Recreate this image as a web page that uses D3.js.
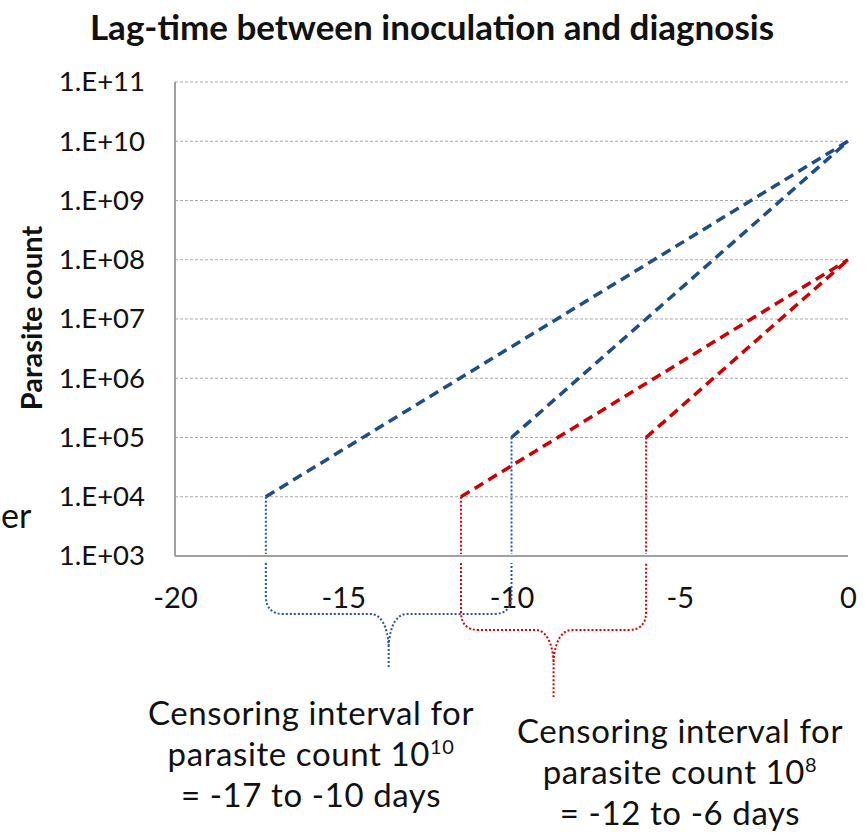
<!DOCTYPE html>
<html>
<head>
<meta charset="utf-8">
<script src="https://cdn.jsdelivr.net/npm/d3@7"></script>
<style>
  html, body { margin: 0; padding: 0; background: #fff; }
  svg { display: block; font-family: Lato, "Open Sans", sans-serif; }
</style>
</head>
<body>
<svg id="chart" width="868" height="839"></svg>
<script>
// Axis ticks
const xTickValues = [-20, -15, -10, -5, 0];
const yTickValues = [1e3, 1e4, 1e5, 1e6, 1e7, 1e8, 1e9, 1e10, 1e11];
const yTickLabels = ["1.E+03", "1.E+04", "1.E+05", "1.E+06", "1.E+07", "1.E+08", "1.E+09", "1.E+10", "1.E+11"];

// Growth trajectories: start (day, count) to end (day, count)
const seriesStartDay   = [-17.3, -10, -11.5, -6];
const seriesStartCount = [1e4, 1e5, 1e4, 1e5];
const seriesEndDay     = [0, 0, 0, 0];
const seriesEndCount   = [1e10, 1e10, 1e8, 1e8];
const seriesGroup      = [0, 0, 1, 1];

// Censoring intervals (one per diagnosis count)
const intervalFrom = [-17.3, -11.5];
const intervalTo   = [-10, -6];

const groupLineColors   = ["#1f4e86", "#cc0000"];
const groupBraceColors  = ["#2b5597", "#dd0000"];

const svg = d3.select("#chart");

const x = d3.scaleLinear().domain([-20, 0]).range([175, 848]);
const y = d3.scaleLog().domain([1e3, 1e11]).range([556, 82]);

// Title
svg.append("text")
  .attr("x", 432).attr("y", 40)
  .attr("text-anchor", "middle")
  .attr("font-weight", "bold")
  .attr("font-size", 35)
  .attr("fill", "#111")
  .text("Lag-time between inoculation and diagnosis");

// Horizontal gridlines
svg.append("g")
  .selectAll("line")
  .data(yTickValues.slice(1))
  .join("line")
  .attr("x1", x(-20)).attr("x2", x(0))
  .attr("y1", d => y(d)).attr("y2", d => y(d))
  .attr("stroke", "#a8a8a8")
  .attr("stroke-width", 1.2)
  .attr("stroke-dasharray", "3,2");

// Axes lines
svg.append("line")
  .attr("x1", x(-20)).attr("x2", x(-20))
  .attr("y1", y(1e11)).attr("y2", y(1e3))
  .attr("stroke", "#a0a0a0").attr("stroke-width", 2);
svg.append("line")
  .attr("x1", x(-20)).attr("x2", x(0))
  .attr("y1", y(1e3)).attr("y2", y(1e3))
  .attr("stroke", "#a0a0a0").attr("stroke-width", 2);

// Y axis labels
const yAxis = d3.axisLeft(y)
  .tickValues(yTickValues)
  .tickFormat((d, i) => yTickLabels[i])
  .tickSize(0)
  .tickPadding(30);
const gy = svg.append("g").attr("transform", `translate(${x(-20)},0)`).call(yAxis);
gy.select(".domain").remove();
gy.selectAll("text")
  .attr("font-family", "Lato, 'Open Sans', sans-serif")
  .attr("font-size", 27.5)
  .attr("fill", "#111");

// X axis labels
const xAxis = d3.axisBottom(x)
  .tickValues(xTickValues)
  .tickFormat(d3.format("d"))
  .tickSize(0)
  .tickPadding(31);
const gx = svg.append("g").attr("transform", `translate(0,${y(1e3)})`).call(xAxis);
gx.select(".domain").remove();
gx.selectAll("text")
  .attr("font-family", "Lato, 'Open Sans', sans-serif")
  .attr("font-size", 29)
  .attr("fill", "#111")
  .text(d => d < 0 ? "-" + Math.abs(d) : String(d));

// Y axis title
svg.append("text")
  .attr("transform", "translate(42,318) rotate(-90)")
  .attr("text-anchor", "middle")
  .attr("font-weight", "bold")
  .attr("font-size", 29)
  .attr("fill", "#111")
  .text("Parasite count");

// Text fragment at the left margin
svg.append("text")
  .attr("x", 1).attr("y", 528)
  .attr("text-anchor", "start")
  .attr("font-size", 34)
  .attr("fill", "#111")
  .text("er");

// Dotted drop lines from trajectory start to the x axis
const dropG = svg.append("g");
seriesStartDay.forEach((d, i) => {
  dropG.append("line")
    .attr("x1", x(d)).attr("x2", x(d))
    .attr("y1", y(seriesStartCount[i])).attr("y2", y(1e3) - 2)
    .attr("stroke", groupBraceColors[seriesGroup[i]])
    .attr("stroke-width", 2)
    .attr("stroke-dasharray", "2,2");
});

// Curly braces under the axis marking each censoring interval
const braceDepth = [58, 74];
const braceTip = [112, 141];
function bracePath(x1, x2, yTop, yMid, yTip) {
  const m = (x1 + x2) / 2;
  const r = 18;
  const p = d3.path();
  p.moveTo(x1, yTop);
  p.lineTo(x1, yMid - r);
  p.quadraticCurveTo(x1, yMid, x1 + r, yMid);
  p.lineTo(m - 18, yMid);
  p.bezierCurveTo(m - 8, yMid, m - 1, yMid + 12, m, yMid + 32);
  p.lineTo(m, yTip);
  p.moveTo(m, yMid + 32);
  p.bezierCurveTo(m + 1, yMid + 12, m + 8, yMid, m + 18, yMid);
  p.lineTo(x2 - r, yMid);
  p.quadraticCurveTo(x2, yMid, x2, yMid - r);
  p.lineTo(x2, yTop);
  return p.toString();
}
const axisY = y(1e3);
intervalFrom.forEach((from, g) => {
  svg.append("path")
    .attr("d", bracePath(x(from), x(intervalTo[g]), axisY + 7, axisY + braceDepth[g], axisY + braceTip[g]))
    .attr("fill", "none")
    .attr("stroke", groupBraceColors[g])
    .attr("stroke-width", 2)
    .attr("stroke-dasharray", "2,2");
});

// Trajectory lines
const seriesG = svg.append("g");
seriesStartDay.forEach((d, i) => {
  seriesG.append("line")
    .attr("x1", x(d)).attr("y1", y(seriesStartCount[i]))
    .attr("x2", x(seriesEndDay[i])).attr("y2", y(seriesEndCount[i]))
    .attr("stroke", groupLineColors[seriesGroup[i]])
    .attr("stroke-width", 3.5)
    .attr("stroke-dasharray", "10,6");
});

// Annotations
function annotate(cx, y0, exp, rangeText) {
  const g = svg.append("g")
    .attr("font-size", 33)
    .attr("letter-spacing", 0.6)
    .attr("fill", "#111")
    .attr("text-anchor", "middle");
  g.append("text").attr("x", cx).attr("y", y0).text("Censoring interval for");
  const t = g.append("text").attr("x", cx).attr("y", y0 + 41);
  t.append("tspan").text("parasite count 10");
  t.append("tspan").attr("font-size", 20).attr("dy", -12).text(exp);
  g.append("text").attr("x", cx).attr("y", y0 + 82).text(rangeText);
}
annotate(311, 725, "10", "= -17 to -10 days");
annotate(680, 743, "8", "= -12 to -6 days");
</script>
</body>
</html>
